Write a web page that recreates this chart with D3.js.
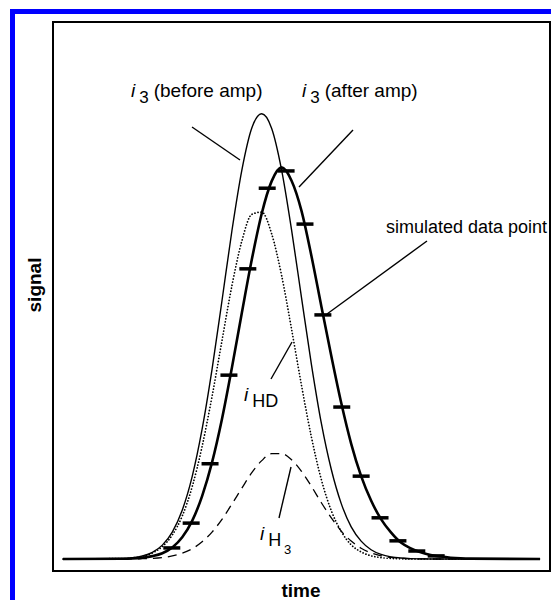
<!DOCTYPE html>
<html>
<head>
<meta charset="utf-8">
<script src="https://cdn.jsdelivr.net/npm/d3@7"></script>
<style>
  body { margin: 0; background: #fff; }
  svg { display: block; }
  text { font-family: "Liberation Sans", Arial, sans-serif; fill: #000; }
</style>
</head>
<body>
<div id="chart"></div>
<script>
// time grid shared by the curves (arbitrary units)
var times = [2, 14, 16, 18, 20, 22, 24, 26, 28, 30, 32, 34, 36, 38, 40, 42, 44, 46, 48, 50,
  52, 54, 56, 58, 60, 62, 64, 66, 68, 70, 72, 74, 76, 78, 80, 82, 84, 98];

// i3 before amplifier (thin solid)
var beforeAmp = [0, 0.11, 0.27, 0.68, 1.51, 3.13, 6.08, 11.0, 18.6, 29.3, 42.8, 58.3, 74.1, 87.8, 97.3, 100.5,
  97.2, 87.8, 74.3, 59.0, 43.9, 30.6, 20.2, 12.5, 7.25, 4.03, 2.09, 1.03, 0.48, 0.21, 0.08, 0.03, 0.01, 0, 0, 0, 0, 0];

// i3 after amplifier (thick solid)
var afterAmp = [0, 0.05, 0.12, 0.3, 0.65, 1.3, 2.6, 4.9, 8.6, 14.2, 21.8, 31.6, 43.2, 55.6, 67.6, 78.0,
  85.3, 88.4, 85.4, 78.6, 68.4, 57.0, 45.8, 35.2, 26.0, 18.7, 13.2, 9.0, 6.0, 3.7, 2.4, 1.5, 0.9, 0.55, 0.3, 0.15, 0.08, 0];

// iHD (dotted)
var iHD = [0, 0.1, 0.25, 0.61, 1.36, 2.8, 5.4, 9.7, 16.3, 25.4, 36.7, 49.3, 61.7, 71.8, 77.8, 78.3,
  73.4, 64.0, 51.9, 39.2, 27.5, 17.9, 10.9, 6.2, 3.2, 1.6, 0.72, 0.3, 0.12, 0.04, 0.01, 0, 0, 0, 0, 0, 0, 0];

// iH3 (dashed)
var iH3 = [0, 0.01, 0.02, 0.07, 0.15, 0.33, 0.68, 1.29, 2.31, 3.87, 6.07, 8.95, 12.4, 16.0, 19.5, 22.2,
  23.8, 23.8, 22.4, 19.8, 16.4, 12.7, 9.3, 6.3, 4.05, 2.43, 1.37, 0.73, 0.36, 0.17, 0.07, 0.03, 0.01, 0, 0, 0, 0, 0];

// simulated data points (tick marks)
var simTimes = [23.9, 27.8, 31.6, 35.4, 39.2, 43.1, 46.9, 50.7, 54.3, 58.1, 62.0, 65.8, 69.4, 73.2, 77.1];
var simValues = [2.5, 8.1, 21.5, 41.5, 65.5, 83.7, 87.6, 75.6, 55.1, 34.3, 18.7, 9.3, 4.1, 1.8, 0.7];

var width = 551, height = 600;
var frame = { left: 53, top: 22, right: 550, bottom: 571 };

var svg = d3.select("#chart")
  .append("svg")
  .attr("width", width)
  .attr("height", height);

// blue border (top and left only)
svg.append("rect").attr("x", 10).attr("y", 9).attr("width", width - 10).attr("height", 5).attr("fill", "#0000ff");
svg.append("rect").attr("x", 10).attr("y", 9).attr("width", 5).attr("height", height - 9).attr("fill", "#0000ff");

var x = d3.scaleLinear().domain([0, 100]).range([frame.left, frame.right]);
var y = d3.scaleLinear().domain([0, 100]).range([559, 116]);

// plot frame
svg.append("rect")
  .attr("x", frame.left)
  .attr("y", frame.top)
  .attr("width", frame.right - frame.left)
  .attr("height", frame.bottom - frame.top)
  .attr("fill", "none")
  .attr("stroke", "#000")
  .attr("stroke-width", 2);

function line(values) {
  return d3.line()
    .x(function(d, i) { return x(times[i]); })
    .y(function(d) { return y(d); })
    .curve(d3.curveMonotoneX)(values);
}

svg.append("path")
  .attr("d", line(iH3))
  .attr("fill", "none")
  .attr("stroke", "#000")
  .attr("stroke-width", 1.3)
  .attr("stroke-dasharray", "9,6");

svg.append("path")
  .attr("d", line(iHD))
  .attr("fill", "none")
  .attr("stroke", "#000")
  .attr("stroke-width", 1.7)
  .attr("stroke-linecap", "round")
  .attr("stroke-dasharray", "0.1,3");

svg.append("path")
  .attr("d", line(beforeAmp))
  .attr("fill", "none")
  .attr("stroke", "#000")
  .attr("stroke-width", 1.4);

svg.append("path")
  .attr("d", line(afterAmp))
  .attr("fill", "none")
  .attr("stroke", "#000")
  .attr("stroke-width", 2.6);

// tick marks for the simulated data
svg.append("g")
  .selectAll("line")
  .data(simValues)
  .enter()
  .append("line")
  .attr("x1", function(d, i) { return x(simTimes[i]) - 8.5; })
  .attr("x2", function(d, i) { return x(simTimes[i]) + 8.5; })
  .attr("y1", function(d) { return y(d); })
  .attr("y2", function(d) { return y(d); })
  .attr("stroke", "#000")
  .attr("stroke-width", 3.5);

// leader lines
var leaders = [
  [192, 127, 240, 160],
  [353, 130, 299, 187],
  [427, 241, 327, 314],
  [292, 342, 271, 379],
  [291, 467, 279, 518]
];
svg.append("g")
  .selectAll("line")
  .data(leaders)
  .enter()
  .append("line")
  .attr("x1", function(d) { return d[0]; })
  .attr("y1", function(d) { return d[1]; })
  .attr("x2", function(d) { return d[2]; })
  .attr("y2", function(d) { return d[3]; })
  .attr("stroke", "#000")
  .attr("stroke-width", 1.4);

// curve labels
function label(px, py, sub, subSize, rest) {
  var t = svg.append("text").attr("x", px).attr("y", py).attr("font-size", "19px");
  t.append("tspan").attr("font-style", "italic").text("i");
  t.append("tspan").attr("dx", 4).attr("dy", 6).attr("font-size", subSize).text(sub);
  if (rest) t.append("tspan").attr("dx", 5).attr("dy", -6).text(rest);
}
label(131, 97, "3", "17px", "(before amp)");
label(302, 97, "3", "17px", "(after amp)");
label(244, 401, "HD", "18px");
label(260, 540, "H", "18px");

svg.append("text")
  .attr("x", 284).attr("y", 554)
  .attr("font-size", "13px")
  .text("3");

svg.append("text")
  .attr("x", 547).attr("y", 233)
  .attr("font-size", "18px")
  .style("text-anchor", "end")
  .text("simulated data point");

// axis titles
svg.append("text")
  .attr("x", 301).attr("y", 597)
  .attr("font-size", "19px")
  .attr("font-weight", "bold")
  .style("text-anchor", "middle")
  .text("time");

svg.append("text")
  .attr("transform", "translate(41,285) rotate(-90)")
  .attr("font-size", "19px")
  .attr("font-weight", "bold")
  .style("text-anchor", "middle")
  .text("signal");
</script>
</body>
</html>
